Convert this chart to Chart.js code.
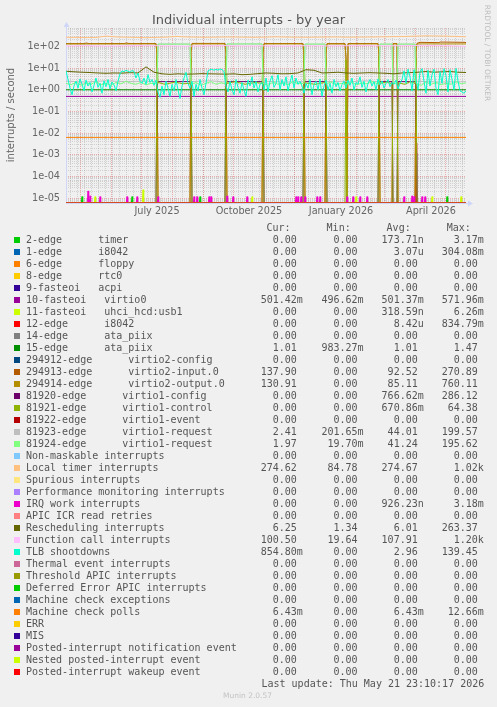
<!DOCTYPE html>
<html>
<head>
<meta charset="utf-8">
<title>Individual interrupts - by year</title>
<script src="https://cdn.jsdelivr.net/npm/chart.js@4.4.1/dist/chart.umd.min.js"></script>
<style>
  html, body { margin: 0; padding: 0; background: #F0F0F0; }
  body { width: 497px; height: 707px; position: relative; overflow: hidden; font-family: "DejaVu Sans", sans-serif; }
  #chart { position: absolute; left: 0; top: 0; }
  .title { position: absolute; left: 0; top: 12px; width: 497px; text-align: center; font-size: 13px; line-height: 16px; color: #555; }
  .ytitle { position: absolute; left: -89px; top: 109px; width: 200px; height: 12px; line-height: 12px; text-align: center; font-size: 10px; color: #666; transform: rotate(-90deg); }
  .credit { position: absolute; left: 437px; top: 48px; width: 100px; height: 10px; line-height: 10px; text-align: center; font-size: 7.5px; color: #BDBDBD; transform: rotate(90deg); }
  .munin { position: absolute; left: 0; top: 691px; width: 495px; text-align: center; font-size: 7.5px; line-height: 10px; color: #C4C4C4; }
  #legend { position: absolute; left: 0; top: 0; width: 497px; height: 707px; font-family: "DejaVu Sans Mono", monospace; font-size: 10px; color: #555; }
  .row { position: absolute; left: 0; height: 12px; line-height: 12px; white-space: pre; }
  .row span { position: absolute; top: 0; white-space: pre; }
  .sw { width: 6px; height: 6px; top: 3px !important; left: 14px; }
</style>
</head>
<body>
<canvas id="chart" width="497" height="222"></canvas>
<div class="title">Individual interrupts - by year</div>
<div class="ytitle">interrupts / second</div>
<div class="credit">RRDTOOL / TOBI OETIKER</div>
<div id="legend"></div>
<div class="munin">Munin 2.0.57</div>
<script>
// dag 0 = 16 april 2025, grafiek loopt van dag 1 tot dag 401 (21 mei 2026)
let xMin = 1, xMax = 401;
let yMin = 6.1e-6, yMax = 710;

// maandgrenzen (dag) en de labels die rrdtool midden in de maand zet
let monthStarts = [15, 46, 76, 107, 138, 168, 199, 229, 260, 291, 319, 350, 380];
let quarterLabels = { 76: 'July 2025', 168: 'October 2025', 260: 'January 2026', 350: 'April 2026' };
// maandagen voor de fijne verticale lijnen
let firstMonday = 5;

// legenda
let legendLabels = [
  '2-edge      timer', '1-edge      i8042', '6-edge      floppy', '8-edge      rtc0',
  '9-fasteoi   acpi', '10-fasteoi   virtio0', '11-fasteoi   uhci_hcd:usb1', '12-edge      i8042',
  '14-edge      ata_piix', '15-edge      ata_piix', '294912-edge      virtio2-config',
  '294913-edge      virtio2-input.0', '294914-edge      virtio2-output.0',
  '81920-edge      virtio1-config', '81921-edge      virtio1-control', '81922-edge      virtio1-event',
  '81923-edge      virtio1-request', '81924-edge      virtio1-request',
  'Non-maskable interrupts', 'Local timer interrupts', 'Spurious interrupts',
  'Performance monitoring interrupts', 'IRQ work interrupts', 'APIC ICR read retries',
  'Rescheduling interrupts', 'Function call interrupts', 'TLB shootdowns',
  'Thermal event interrupts', 'Threshold APIC interrupts', 'Deferred Error APIC interrupts',
  'Machine check exceptions', 'Machine check polls', 'ERR', 'MIS',
  'Posted-interrupt notification event', 'Nested posted-interrupt event', 'Posted-interrupt wakeup event'
];
let legendColors = [
  '#00CC00', '#0066B3', '#FF8000', '#FFCC00', '#330099', '#990099', '#CCFF00', '#FF0000',
  '#808080', '#008F00', '#00487D', '#B35A00', '#B38F00', '#6B006B', '#8FB300', '#B30000',
  '#BEBEBE', '#80FF80', '#80C9FF', '#FFC080', '#FFE680', '#AA80FF', '#EE00CC', '#FF8080',
  '#666600', '#FFBFFF', '#00FFCC', '#CC6699', '#999900', '#00CC00', '#0066B3', '#FF8000',
  '#FFCC00', '#330099', '#990099', '#CCFF00', '#FF0000'
];
let curVals = ['0.00', '0.00', '0.00', '0.00', '0.00', '501.42m', '0.00', '0.00', '0.00', '1.01', '0.00',
  '137.90', '130.91', '0.00', '0.00', '0.00', '2.41', '1.97', '0.00', '274.62', '0.00', '0.00', '0.00',
  '0.00', '6.25', '100.50', '854.80m', '0.00', '0.00', '0.00', '0.00', '6.43m', '0.00', '0.00', '0.00', '0.00', '0.00'];
let minVals = ['0.00', '0.00', '0.00', '0.00', '0.00', '496.62m', '0.00', '0.00', '0.00', '983.27m', '0.00',
  '0.00', '0.00', '0.00', '0.00', '0.00', '201.65m', '19.70m', '0.00', '84.78', '0.00', '0.00', '0.00',
  '0.00', '1.34', '19.64', '0.00', '0.00', '0.00', '0.00', '0.00', '0.00', '0.00', '0.00', '0.00', '0.00', '0.00'];
let avgVals = ['173.71n', '3.07u', '0.00', '0.00', '0.00', '501.37m', '318.59n', '8.42u', '0.00', '1.01', '0.00',
  '92.52', '85.11', '766.62m', '670.86m', '0.00', '44.01', '41.24', '0.00', '274.67', '0.00', '0.00', '926.23n',
  '0.00', '6.01', '107.91', '2.96', '0.00', '0.00', '0.00', '0.00', '6.43m', '0.00', '0.00', '0.00', '0.00', '0.00'];
let maxVals = ['3.17m', '304.08m', '0.00', '0.00', '0.00', '571.96m', '6.26m', '834.79m', '0.00', '1.47', '0.00',
  '270.89', '760.11', '286.12', '64.38', '0.00', '199.57', '195.62', '0.00', '1.02k', '0.00', '0.00', '3.18m',
  '0.00', '263.37', '1.20k', '139.45', '0.00', '0.00', '0.00', '0.00', '12.66m', '0.00', '0.00', '0.00', '0.00', '0.00'];
let lastUpdate = 'Last update: Thu May 21 23:10:17 2026';

// meetreeksen als [dag, waarde]
let timerSpikes = [[17, 1.2e-5], [67, 1.2e-5], [135, 1.2e-5], [382, 1.2e-5]];
let i8042Spikes = [[351, 1.2e-3]];
let usbSpikes = [[30, 1.2e-5], [78, 2.5e-5], [187, 1.2e-5], [291, 1.2e-5], [367, 1.2e-5], [396, 1.2e-5]];
let kbdSpikes = [[351, 3.5e-3]];
let irqWorkSpikes = [[23, 2.2e-5], [25, 1.3e-5], [35, 1.2e-5], [62, 1.2e-5], [72, 1.2e-5], [93, 1.2e-5],
  [129, 1.2e-5], [132, 1.2e-5], [144, 1.2e-5], [146, 1.2e-5], [162, 1.3e-5], [168, 1.2e-5], [182, 1.2e-5],
  [231, 1.2e-5], [233, 1.2e-5], [236, 1.2e-5], [240, 1.2e-5], [252, 1.2e-5], [255, 1.2e-5], [282, 1.2e-5],
  [288, 1.2e-5], [295, 1.2e-5], [302, 1.2e-5], [339, 1.2e-5], [347, 1.3e-5], [349, 1.2e-5], [357, 1.2e-5], [360, 1.2e-5]];

let virtio0 = [[1, 0.5], [401, 0.5]];
let ata15 = [[1, 1.01], [401, 1.01]];
let mcPolls = [[1, 0.00643], [401, 0.00643]];

let virtio2In = [[1, 136], [20, 136], [21, 145], [24, 136], [60, 137], [61, 146], [64, 137], [91, 137], [92, 45], [93, 0],
  [125, 0], [126, 60], [127, 138], [160, 138], [161, 50], [162, 0], [197, 0], [198, 55], [199, 137], [238, 137], [239, 40], [240, 0], [260, 0],
  [261, 50], [262, 136], [280, 136], [281, 30], [282, 0], [283, 137], [313, 137], [314, 45], [315, 0], [327, 0], [328, 137], [332, 137],
  [333, 0], [350, 0], [351, 60], [352, 140], [355, 155], [374, 150], [375, 160], [400, 155], [401, 150]];
let virtio2Out = [[1, 130], [91, 131], [92, 40], [93, 0], [125, 0], [126, 55], [127, 131], [160, 131], [161, 45], [162, 0], [197, 0],
  [198, 50], [199, 131], [238, 131], [239, 35], [240, 0], [260, 0], [261, 45], [262, 130], [280, 130], [281, 28], [282, 0], [283, 131], [313, 131],
  [314, 40], [315, 0], [327, 0], [328, 131], [332, 131], [333, 0], [350, 0], [351, 55], [352, 131], [401, 131]];
let v1Config = [[1, 0], [91, 0], [92, 2.4], [125, 2.4], [126, 2.4], [127, 0], [160, 0], [161, 2.4], [197, 2.4], [198, 2.4], [199, 0],
  [238, 0], [239, 2.4], [260, 2.4], [261, 2.4], [262, 0], [313, 0], [314, 2.4], [327, 2.4], [328, 0], [332, 0],
  [333, 2.4], [350, 2.4], [351, 2.4], [352, 0], [401, 0]];
let v1Control = [[1, 0], [91, 0], [92, 40], [93, 2.2], [100, 1.8], [110, 2.3], [118, 1.9], [125, 2.0], [126, 30], [127, 0],
  [160, 0], [161, 35], [162, 2.0], [170, 2.4], [180, 1.8], [190, 2.2], [197, 2.0], [198, 30], [199, 0], [238, 0], [239, 40], [240, 2.1],
  [250, 1.8], [260, 2.2], [261, 30], [262, 0], [280, 0], [281, 25], [282, 0], [313, 0], [314, 35], [315, 2.0], [322, 2.3], [327, 1.9], [328, 0], [332, 0],
  [333, 2.1], [340, 1.8], [345, 2.4], [350, 2.0], [351, 30], [352, 0], [401, 0]];
let v1Req3 = [[1, 2.5], [20, 2.3], [40, 2.6], [60, 2.4], [80, 2.5], [92, 2.4], [93, 130], [125, 130],
  [126, 2.4], [145, 2.6], [161, 2.3], [162, 131], [197, 131], [198, 2.5], [220, 2.3], [239, 2.4],
  [240, 129], [260, 129], [261, 2.4], [281, 2.5], [282, 2.3], [300, 2.6], [314, 2.4], [315, 129],
  [327, 129], [328, 2.4], [332, 2.4], [333, 129], [350, 129], [351, 2.5], [375, 2.3], [401, 2.4]];
let v1Req4 = [[1, 2.0], [6, 1.7], [11, 2.3], [16, 1.6], [21, 2.1], [26, 1.8], [31, 2.4], [36, 1.7], [41, 2.0],
  [46, 1.6], [51, 2.2], [56, 1.9], [61, 2.5], [66, 2.0], [71, 1.8], [76, 2.2], [81, 1.7], [86, 2.0], [92, 1.9],
  [93, 128], [125, 128],
  [126, 1.8], [131, 2.2], [136, 1.6], [141, 2.0], [146, 2.4], [151, 1.8], [156, 2.1], [161, 1.9],
  [162, 130], [197, 130],
  [198, 2.0], [203, 1.6], [208, 2.3], [213, 1.8], [218, 2.1], [223, 1.7], [228, 2.4], [233, 1.9], [239, 2.0],
  [240, 128], [260, 128],
  [261, 1.9], [266, 2.3], [271, 1.7], [276, 2.0], [281, 1.8], [287, 2.2], [292, 1.7], [297, 2.1],
  [302, 1.9], [307, 2.4], [314, 1.8],
  [315, 128], [327, 128], [328, 2.0], [332, 1.9], [333, 128], [350, 128],
  [351, 2.0], [356, 1.6], [361, 2.3], [366, 1.8], [371, 2.2], [376, 1.7], [381, 2.0], [386, 1.8],
  [391, 2.4], [396, 1.9], [401, 2.1]];

let localTimer = [[1, 265], [11, 262], [21, 258], [31, 260], [41, 300], [51, 275], [61, 268], [71, 262],
  [81, 255], [91, 262], [101, 270], [111, 290], [121, 275], [131, 270], [141, 265], [151, 268], [161, 275],
  [171, 272], [181, 268], [191, 265], [201, 270], [211, 280], [221, 272], [231, 268], [241, 265], [251, 270],
  [261, 272], [271, 275], [281, 268], [291, 270], [301, 272], [311, 275], [321, 280], [331, 285], [341, 290],
  [351, 300], [361, 310], [371, 305], [381, 300], [391, 290], [401, 280]];
let funcCall = [[1, 105], [21, 110], [41, 104], [61, 108], [81, 112], [101, 106], [121, 103], [141, 108],
  [161, 110], [181, 105], [201, 107], [221, 104], [241, 109], [261, 106], [281, 108], [301, 111], [321, 107],
  [341, 110], [361, 112], [381, 109], [401, 101]];
let resched = [[1, 7.2], [9, 6.8], [17, 6.5], [25, 6.3], [33, 6.0], [41, 5.8], [49, 6.0], [57, 5.9], [65, 6.2],
  [73, 6.0], [81, 11.5], [89, 6.5], [97, 5.5], [105, 5.2], [113, 5.5], [121, 5.3], [129, 5.4], [137, 5.6],
  [145, 5.5], [153, 5.4], [161, 5.3], [169, 5.5], [177, 5.0], [185, 5.2], [193, 5.6], [201, 6.0], [209, 5.8],
  [217, 5.5], [225, 5.6], [233, 6.0], [241, 8.5], [249, 8.0], [257, 6.0], [265, 6.2], [273, 6.5], [281, 6.0],
  [289, 5.8], [297, 6.0], [305, 6.2], [313, 6.0], [321, 5.8], [329, 5.5], [337, 6.0], [345, 6.2], [353, 6.5],
  [361, 7.0], [369, 6.5], [377, 6.8], [385, 7.0], [393, 6.5], [401, 6.3]];
// TLB shootdowns, om de 2 dagen vanaf dag 1
let tlbValues = [
  7.5, 3.0, 1.2, 0.6, 1.5,
  2.5, 1.2, 3.2, 1.8, 0.9, 2.8, 1.5, 2.2, 0.8, 1.6, 3.5, 1.3, 2.0, 0.7, 2.6, 1.4, 3.0, 1.1, 2.3, 1.7, 0.9, 2.5,
  5.5, 7.5, 6.8, 8.0, 7.2, 6.5, 7.8, 7.0, 3.5, 6.0, 2.5,
  2.0, 3.5, 1.8, 5.0, 2.2, 3.0, 1.6, 2.8,
  0.8, 0.45, 1.5, 0.6, 2.5, 1.2, 0.5, 1.8, 0.9, 3.0, 1.0, 0.4, 1.5, 3.5, 6.5, 2.0,
  1.2, 2.5, 0.5, 1.8, 0.9, 3.0, 1.2, 0.6, 2.0,
  7.5, 8.5, 9.0, 8.0, 8.8, 8.2, 9.2, 8.5, 7.0,
  1.5, 0.8, 2.5, 1.0, 0.6, 3.0, 1.3, 0.7, 2.2, 1.0, 0.5, 2.8, 1.5, 4.0, 1.2, 2.5, 0.8, 1.8, 2.2,
  1.0, 3.5, 0.8, 2.5, 4.5, 1.3, 2.0, 5.0, 1.0, 3.0, 1.5, 4.0, 0.9, 2.2, 4.8, 1.2, 3.5, 1.8, 2.5,
  1.5, 0.7, 2.0, 1.2, 3.0, 0.6, 1.8, 2.5, 1.0, 3.2, 0.5, 1.5, 2.8, 1.0, 2.0, 0.7, 3.0, 1.4, 2.2, 0.9, 1.8, 2.5,
  1.2, 2.8, 1.6, 3.5, 1.0, 2.2, 1.8, 4.0, 1.3, 2.5, 0.8, 2.0, 3.0, 1.5, 2.4, 1.0, 3.2, 1.7, 2.6, 1.2, 2.0, 3.0,
  1.4, 2.2, 1.8, 2.8, 1.1, 2.0,
  3.0, 7.5, 2.0, 9.0, 4.0, 0.9, 8.5, 3.0, 1.0, 6.5, 9.5, 2.5, 0.7, 8.0, 1.5, 5.0, 9.0, 1.2, 0.6, 7.0,
  2.0, 9.5, 4.5, 0.8, 8.5, 3.0, 1.0, 9.8, 2.5, 0.9,
  0.8, 0.7, 0.9];
let tlbStart = 1, tlbStep = 2;

// pieken: 0 - top - 0
function spikes(list) {
  let pts = [[xMin, 0]];
  list.forEach(p => { pts.push([p[0] - 0.7, 0], [p[0], p[1]], [p[0] + 0.7, 0]); });
  pts.push([xMax, 0]);
  return pts;
}
let tlb = tlbValues.map((v, i) => [tlbStart + i * tlbStep, v]);
let zero = [[xMin, 0], [xMax, 0]];

let seriesData = [
  spikes(timerSpikes), spikes(i8042Spikes), zero, zero, zero, virtio0, spikes(usbSpikes), spikes(kbdSpikes),
  zero, ata15, zero, virtio2In, virtio2Out, v1Config, v1Control, zero, v1Req3, v1Req4,
  zero, localTimer, zero, zero, spikes(irqWorkSpikes), zero, resched, funcCall, tlb,
  zero, zero, zero, zero, mcPolls, zero, zero, zero, zero, zero
];

// in log-schaal komen nullen op de onderrand (zoals rrdtool)
let datasets = seriesData.map((pts, i) => ({
  label: legendLabels[i],
  data: pts.map(p => ({ x: p[0], y: p[1] > 0 ? p[1] : yMin })),
  borderColor: legendColors[i],
  borderWidth: 1,
  pointRadius: 0,
  tension: 0,
  fill: false,
  order: -i
}));

function expLabel(v) {
  let e = Math.round(Math.log10(v));
  return '1e' + (e < 0 ? '-' : '+') + String(Math.abs(e)).padStart(2, '0');
}

let minorGrid = 'rgba(140,140,140,0.32)';
let majorGrid = 'rgba(222,79,79,0.42)';

let axisArrows = {
  id: 'axisArrows',
  beforeDatasetsDraw(chart) {
    let c = chart.ctx, a = chart.chartArea;
    c.save();
    c.strokeStyle = '#CFD6F8';
    c.fillStyle = '#CFD6F8';
    c.lineWidth = 1;
    c.beginPath();
    c.moveTo(a.left, a.bottom + 0.5);
    c.lineTo(a.right + 3, a.bottom + 0.5);
    c.moveTo(a.left + 0.5, a.bottom);
    c.lineTo(a.left + 0.5, a.top - 2);
    c.stroke();
    c.beginPath();
    c.moveTo(a.right + 2, a.bottom - 2.5);
    c.lineTo(a.right + 7, a.bottom + 0.5);
    c.lineTo(a.right + 2, a.bottom + 3.5);
    c.fill();
    c.beginPath();
    c.moveTo(a.left - 2.5, a.top - 1);
    c.lineTo(a.left + 0.5, a.top - 6);
    c.lineTo(a.left + 3.5, a.top - 1);
    c.fill();
    c.restore();
  }
};

Chart.defaults.font.family = '"DejaVu Sans", sans-serif';

let ctx = document.getElementById('chart').getContext('2d');
let chart = new Chart(ctx, {
  type: 'line',
  data: { datasets: datasets },
  options: {
    responsive: false,
    animation: false,
    devicePixelRatio: 1,
    layout: { padding: { left: 0, right: 31, top: 28, bottom: 0 } },
    plugins: { legend: { display: false }, tooltip: { enabled: false }, title: { display: false } },
    scales: {
      x: {
        type: 'linear',
        min: xMin,
        max: xMax,
        bounds: 'data',
        afterBuildTicks: (scale) => {
          let t = [];
          for (let d = firstMonday; d < xMax; d += 7) t.push({ value: d, major: false });
          monthStarts.forEach(d => t.push({ value: d, major: true }));
          t.sort((p, q) => p.value - q.value);
          scale.ticks = t;
        },
        afterFit: (scale) => { scale.height = 19; },
        grid: {
          drawTicks: false,
          lineWidth: 1,
          color: (c) => (c.tick && c.tick.major ? majorGrid : minorGrid)
        },
        border: { display: false, dash: [1, 1] },
        ticks: {
          autoSkip: false,
          maxRotation: 0,
          padding: 3,
          labelOffset: 16,
          color: '#666',
          font: { size: 9.7 },
          callback: (v) => quarterLabels[v] || ''
        }
      },
      y: {
        type: 'logarithmic',
        min: yMin,
        max: yMax,
        bounds: 'data',
        afterBuildTicks: (scale) => {
          let t = [];
          for (let e = -6; e <= 2; e++) {
            for (let m = 1; m <= 9; m++) {
              let v = m * Math.pow(10, e);
              if (v >= yMin && v <= yMax) t.push({ value: v, major: m === 1 });
            }
          }
          scale.ticks = t;
        },
        afterFit: (scale) => { scale.width = 66; },
        grid: {
          drawTicks: false,
          lineWidth: 1,
          color: (c) => (c.tick && c.tick.major ? majorGrid : minorGrid)
        },
        border: { display: false, dash: [1, 1] },
        ticks: {
          autoSkip: false,
          padding: 6,
          color: '#666',
          font: { size: 9.7 },
          callback: (v, i, ticks) => (ticks[i].major ? expLabel(v) : '')
        }
      }
    }
  },
  plugins: [axisArrows]
});

// legenda als tekst
let legend = document.getElementById('legend');
function addRow(top, parts) {
  let row = document.createElement('div');
  row.className = 'row';
  row.style.top = top + 'px';
  parts.forEach(p => {
    let s = document.createElement('span');
    if (p.cls) s.className = p.cls;
    if (p.bg) s.style.background = p.bg;
    if (p.left !== undefined) s.style.left = p.left + 'px';
    if (p.text !== undefined) s.textContent = p.text;
    row.appendChild(s);
  });
  legend.appendChild(row);
}
function field(v) {
  let s = /[0-9]$/.test(v) ? v + ' ' : v;
  return s.padStart(7, ' ');
}
let colLeft = [260.7, 321.5, 381.6, 441.7];
addRow(222, [{ left: 266.5, text: 'Cur:' }, { left: 326.6, text: 'Min:' }, { left: 386.6, text: 'Avg:' }, { left: 446.7, text: 'Max:' }]);
legendLabels.forEach((lab, i) => {
  addRow(234 + 12 * i, [
    { cls: 'sw', bg: legendColors[i] },
    { left: 26, text: lab },
    { left: colLeft[0], text: field(curVals[i]) },
    { left: colLeft[1], text: field(minVals[i]) },
    { left: colLeft[2], text: field(avgVals[i]) },
    { left: colLeft[3], text: field(maxVals[i]) }
  ]);
});
addRow(234 + 12 * legendLabels.length, [{ left: 261.5, text: lastUpdate }]);
</script>
</body>
</html>
